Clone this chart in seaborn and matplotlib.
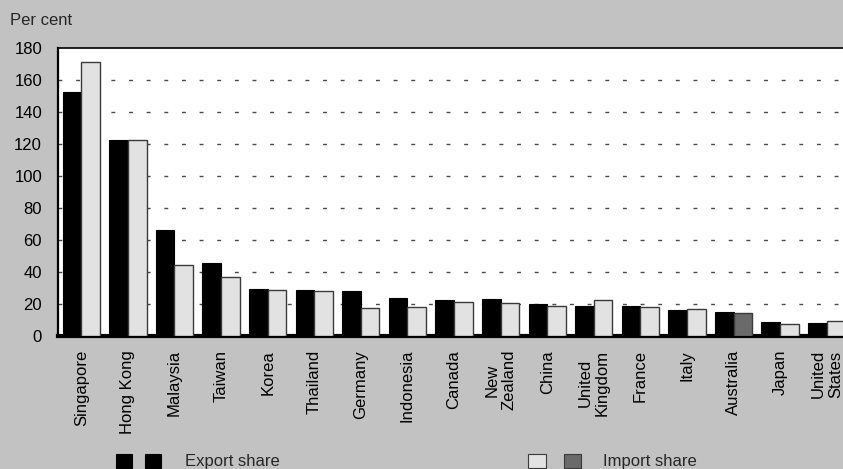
import matplotlib
matplotlib.use("Agg")
import matplotlib.pyplot as plt
from matplotlib.patches import Rectangle
import seaborn as sns
import pandas as pd

countries = ["Singapore", "Hong Kong", "Malaysia", "Taiwan", "Korea", "Thailand",
             "Germany", "Indonesia", "Canada", "New\nZealand", "China", "United\nKingdom",
             "France", "Italy", "Australia", "Japan", "United\nStates"]
export_share = [152, 122, 66, 45.5, 29.5, 29, 28, 24, 22.6, 23, 19.7, 18.9, 18.9, 16.4, 14.7, 8.6, 8]
import_share = [171, 122, 44, 37, 29, 28.3, 17.6, 18.4, 21, 20.5, 18.6, 22.2, 18.4, 16.6, 14.1, 7.2, 9.5]
series_names = ["Export share", "Import share"]
y_ticks = [0, 20, 40, 60, 80, 100, 120, 140, 160, 180]

df = pd.DataFrame({
    "country": countries * 2,
    "share": export_share + import_share,
    "series": [series_names[0]] * len(countries) + [series_names[1]] * len(countries),
})

sns.set_theme(style="white")
plt.rcParams["font.family"] = ["Liberation Sans", "DejaVu Sans"]

BG = "#c2c2c2"
EXPORT_C = "#000000"
IMPORT_C = "#e2e2e2"
HOME_C = "#6a6a6a"

fig = plt.figure(figsize=(8.43, 4.69), dpi=100, facecolor=BG)
ax = fig.add_axes([58 / 843, 1 - 336 / 469, 792 / 843, 288.5 / 469])
ax.set_facecolor("white")

sns.barplot(data=df, x="country", y="share", hue="series", order=countries,
            hue_order=series_names, palette=[EXPORT_C, IMPORT_C], width=0.8,
            saturation=1, legend=False, ax=ax, zorder=3)

for bar in ax.containers[0]:
    bar.set_edgecolor("black")
    bar.set_linewidth(0.8)
for bar in ax.containers[1]:
    bar.set_edgecolor("#3a3a3a")
    bar.set_linewidth(1.0)
# Australia's own import share is shaded darker
ax.containers[1][countries.index("Australia")].set_facecolor(HOME_C)

ax.set_xlim(-0.5, len(countries) - 0.5)
ax.set_ylim(0, 180)
ax.set_yticks(y_ticks)
ax.set_yticklabels([str(v) for v in y_ticks], fontsize=12, color="black")
ax.set_xticks(range(len(countries)))
ax.set_xticklabels(countries, rotation=90, fontsize=12, color="black",
                   ha="center", va="top", multialignment="center")
ax.tick_params(axis="both", length=0)
ax.tick_params(axis="y", pad=11.5)
ax.tick_params(axis="x", pad=10)
ax.set_xlabel("")
ax.set_ylabel("")

for v in y_ticks[1:-1]:
    ax.axhline(v, color="#4a4a4a", linewidth=1.0, dashes=(2.8, 9.9), zorder=1)

for side in ["left", "top", "bottom"]:
    ax.spines[side].set_visible(True)
    ax.spines[side].set_color("black")
ax.spines["left"].set_linewidth(1.6)
ax.spines["top"].set_linewidth(1.2)
ax.spines["bottom"].set_linewidth(3.0)
ax.spines["right"].set_visible(False)

fig.text(10 / 843, 1 - 25 / 469, "Per cent", fontsize=12, ha="left", va="baseline")

# legend keys drawn in figure pixels
W, H = 843, 469
def key(x0, x1, color, edge):
    fig.add_artist(Rectangle((x0 / W, 1 - 468 / H), (x1 - x0) / W, 14 / H,
                             transform=fig.transFigure, facecolor=color,
                             edgecolor=edge, linewidth=0.8))

key(116, 132, EXPORT_C, "black")
key(145, 161, EXPORT_C, "black")
fig.text(185 / W, 1 - 466 / H, series_names[0], fontsize=12, ha="left", va="baseline")
key(528, 546, IMPORT_C, "#3a3a3a")
key(564, 581, HOME_C, "#3a3a3a")
fig.text(603 / W, 1 - 466 / H, series_names[1], fontsize=12, ha="left", va="baseline")

fig.savefig("out.png", dpi=100, facecolor=BG)
